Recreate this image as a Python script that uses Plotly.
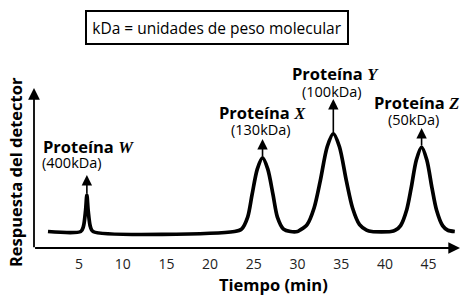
import plotly.graph_objects as go

# ---- data ----
time_min = [1.45, 5.2, 5.5, 5.75, 5.9, 6.05, 6.3, 6.6,
            22.8, 23.6, 24.3, 24.8, 25.4, 26.0, 26.6, 27.2, 27.7, 28.4, 29.2,
            30.0, 30.3, 31.1, 31.9, 32.6, 33.4, 34.1, 34.8, 35.6, 36.3, 37.1, 37.9, 38.5,
            40.7, 41.2, 41.8, 42.5, 43.0, 43.6, 44.2, 44.8, 45.4, 45.9, 46.6, 47.2, 48.0]
response = [0, 0, 0.3, 1.3, 2.28, 1.3, 0.3, 0,
            0, 0.15, 0.9, 2.3, 3.9, 4.6, 3.9, 2.3, 0.9, 0.15, 0,
            0, 0.09, 0.43, 1.47, 3.15, 5.3, 6.12, 5.3, 3.15, 1.47, 0.43, 0.09, 0,
            0, 0.08, 0.37, 1.36, 2.69, 4.47, 5.28, 4.47, 2.69, 1.36, 0.37, 0.08, 0]

peak_names = ["W", "X", "Y", "Z"]
peak_masses = ["(400kDa)", "(130kDa)", "(100kDa)", "(50kDa)"]
peak_times = [5.9, 26.0, 34.1, 44.2]
peak_heights = [2.28, 4.6, 6.12, 5.28]
arrow_tops = [3.53, 5.78, 8.28, 6.47]

tick_vals = [5, 10, 15, 20, 25, 30, 35, 40, 45]
x_title = "Tiempo (min)"
y_title = "Respuesta del detector"
note = "kDa = unidades de peso molecular"

# ---- layout helpers ----
FONT = "Open Sans, Noto Sans, sans-serif"
x_range = [-1.18, 48.71]
y_range = [-1.594, 9.47]
axis_y = -1.03     # position of the drawn time axis
axis_x = -0.15     # position of the drawn response axis
x_end = 48.6
y_end = 8.97

# label offsets in pixels: (name dx, name dy, mass dx, mass dy)
label_offsets = [(2, 29, -15, 13), (0, 27, -2, 10), (2, 26, -1, 8), (-5, 25, -8, 8)]

fig = go.Figure()
fig.add_trace(go.Scatter(x=time_min, y=response, mode="lines",
                         line=dict(color="black", width=3.7, shape="spline", smoothing=0.8),
                         hoverinfo="skip", showlegend=False))

ann = []
# axes arrows
ann.append(dict(x=x_end, y=axis_y, ax=axis_x - 0.05, ay=axis_y, xref="x", yref="y",
                axref="x", ayref="y", text="", showarrow=True, arrowhead=2,
                arrowsize=1.3, arrowwidth=1.8, arrowcolor="black", standoff=0))
ann.append(dict(x=axis_x, y=y_end, ax=axis_x, ay=axis_y - 0.05, xref="x", yref="y",
                axref="x", ayref="y", text="", showarrow=True, arrowhead=2,
                arrowsize=1.3, arrowwidth=1.8, arrowcolor="black", standoff=0))

for name, mass, t, h, top, off in zip(peak_names, peak_masses, peak_times,
                                       peak_heights, arrow_tops, label_offsets):
    ann.append(dict(x=t, y=top, ax=t, ay=h, xref="x", yref="y", axref="x", ayref="y",
                    text="", showarrow=True, arrowhead=2, arrowsize=1.3,
                    arrowwidth=1.6, arrowcolor="black", standoff=0))
    ann.append(dict(x=t, y=top, xref="x", yref="y", showarrow=False,
                    text="<b>Proteína </b><span style=\"font-family:'Liberation Serif';"
                         "font-style:italic;font-weight:bold\">" + name + "</span>",
                    font=dict(family=FONT, size=16.5, color="black"),
                    xshift=off[0], yshift=off[1], xanchor="center", yanchor="middle"))
    ann.append(dict(x=t, y=top, xref="x", yref="y", showarrow=False, text=mass,
                    font=dict(family=FONT, size=14.5, color="black"),
                    xshift=off[2], yshift=off[3], xanchor="center", yanchor="middle"))

# titles
ann.append(dict(x=0.569, y=0, xref="paper", yref="paper", showarrow=False,
                text="<b>" + x_title + "</b>", font=dict(family=FONT, size=16.5, color="black"),
                yshift=-27, xanchor="center", yanchor="middle"))
ann.append(dict(x=0, y=0.48, xref="paper", yref="paper", showarrow=False,
                text="<b>" + y_title + "</b>", textangle=-90,
                font=dict(family=FONT, size=16.5, color="black"),
                xshift=-10, xanchor="center", yanchor="middle"))
# note box
ann.append(dict(x=0.44, y=1.299, xref="paper", yref="paper", showarrow=False,
                text=note, font=dict(family=FONT, size=15.5, color="black"),
                bordercolor="black", borderwidth=2, borderpad=2, width=256, height=27,
                bgcolor="white", xanchor="center", yanchor="middle"))

fig.update_layout(
    width=461, height=297,
    margin=dict(l=25, r=0, t=80, b=40, autoexpand=False),
    paper_bgcolor="white", plot_bgcolor="white",
    annotations=ann,
    xaxis=dict(range=x_range, showgrid=False, zeroline=False, showline=False,
               tickvals=tick_vals, ticks="", ticklabelstandoff=-3,
               tickfont=dict(family=FONT, size=14, color="#222")),
    yaxis=dict(range=y_range, showgrid=False, zeroline=False, showline=False,
               showticklabels=False, ticks=""),
)

fig.write_html("out.html", config={"displayModeBar": False},
               post_script="document.body.style.margin='0';")
